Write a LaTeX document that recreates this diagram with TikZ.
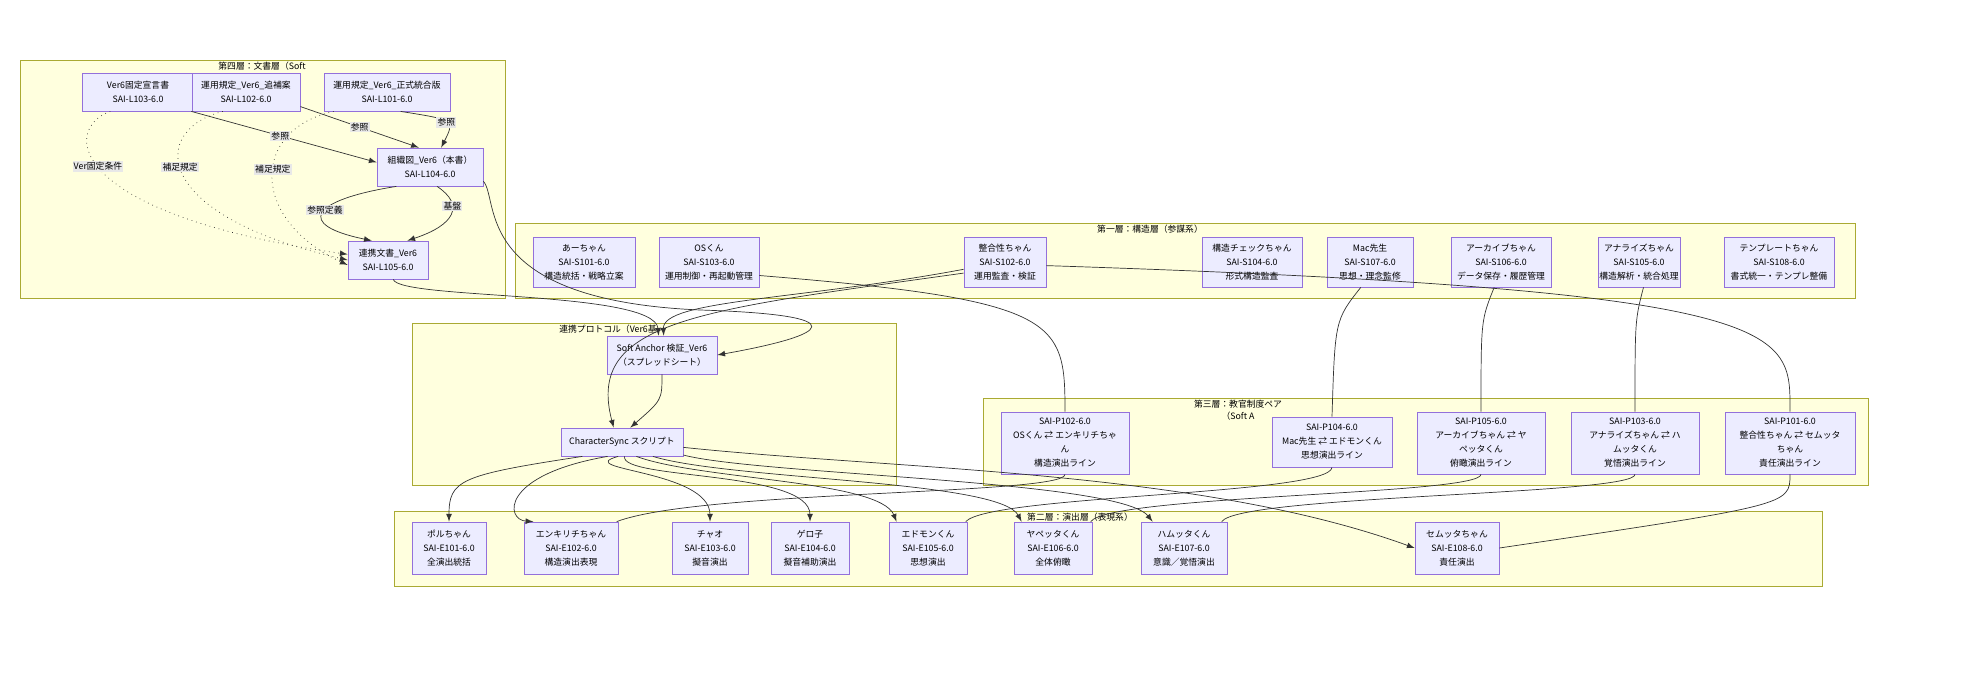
\documentclass[tikz,border=0pt]{standalone}
\usepackage{fontspec}
\setmainfont{Noto Sans CJK JP}
\usetikzlibrary{arrows,positioning}
\definecolor{clfill}{HTML}{FFFFDE}
\definecolor{cldraw}{HTML}{AAAA33}
\definecolor{bxfill}{HTML}{ECECFF}
\definecolor{bxdraw}{HTML}{9370DB}
\definecolor{lnk}{HTML}{333333}
\definecolor{lblfill}{HTML}{E8E8E8}
\tikzset{
  box/.style={draw=bxdraw,fill=bxfill,line width=0.4pt,align=center,inner sep=0pt,
    font=\fontsize{4.4}{7}\selectfont},
  cluster/.style={draw=cldraw,fill=clfill,line width=0.4pt},
  cltitle/.style={font=\fontsize{4.4}{6}\selectfont,inner sep=0pt,anchor=north},
  lbl/.style={fill=lblfill,font=\fontsize{4.4}{6}\selectfont,inner sep=0.6pt},
  lk/.style={draw=lnk,line width=0.35pt},
}
\begin{document}
\begin{tikzpicture}[x=0.5pt,y=-0.5pt,>=latex]
  \useasboundingbox (0,0) rectangle (1982,690);
  % clusters
  \draw[cluster] (20,60) rectangle (505,298);
  \draw[cluster] (515,223) rectangle (1855,298);
  \draw[cluster] (412,323) rectangle (896,485);
  \draw[cluster] (983,398) rectangle (1868,485);
  \draw[cluster] (394,511) rectangle (1822,586);
  \node[cltitle] (T4) at (262,62) {第四層：文書層（Soft};
  \node[cltitle] (T1) at (1150,225) {第一層：構造層（参謀系）};
  \node[cltitle] (TP) at (608,325) {連携プロトコル（Ver6基};
  \node[cltitle,align=center] (T3) at (1238,400) {第三層：教官制度ペア\\（Soft A};
  \node[cltitle] (T2) at (1080,513) {第二層：演出層（表現系）};
  % documents
  \node[box,minimum width=56pt,minimum height=19pt] (L103) at (138,92) {Ver6固定宣言書\\SAI-L103-6.0};
  \node[box,minimum width=54pt,minimum height=19pt] (L102) at (246,92) {運用規定\_Ver6\_追補案\\SAI-L102-6.0};
  \node[box,minimum width=63pt,minimum height=19pt] (L101) at (387,92) {運用規定\_Ver6\_正式統合版\\SAI-L101-6.0};
  \node[box,minimum width=53pt,minimum height=19pt] (L104) at (430,167) {組織図\_Ver6（本書）\\SAI-L104-6.0};
  \node[box,minimum width=40pt,minimum height=19pt] (L105) at (388,260) {連携文書\_Ver6\\SAI-L105-6.0};
  % protocol
  \node[box,minimum width=55pt,minimum height=19pt] (SA) at (662,355) {Soft Anchor 検証\_Ver6\\（スプレッドシート）};
  \node[box,minimum width=61pt,minimum height=14pt] (CS) at (622,442) {CharacterSync スクリプト};
  % structure layer
  \node[box,minimum width=51pt,minimum height=25pt] (S101) at (584,262) {あーちゃん\\SAI-S101-6.0\\構造統括・戦略立案};
  \node[box,minimum width=50pt,minimum height=25pt] (S103) at (709,262) {OSくん\\SAI-S103-6.0\\運用制御・再起動管理};
  \node[box,minimum width=41pt,minimum height=25pt] (S102) at (1005,262) {整合性ちゃん\\SAI-S102-6.0\\運用監査・検証};
  \node[box,minimum width=50pt,minimum height=25pt] (S104) at (1252,262) {構造チェックちゃん\\SAI-S104-6.0\\形式構造監査};
  \node[box,minimum width=43pt,minimum height=25pt] (S107) at (1370,262) {Mac先生\\SAI-S107-6.0\\思想・理念監修};
  \node[box,minimum width=50pt,minimum height=25pt] (S106) at (1501,262) {アーカイブちゃん\\SAI-S106-6.0\\データ保存・履歴管理};
  \node[box,minimum width=41pt,minimum height=25pt] (S105) at (1639,262) {アナライズちゃん\\SAI-S105-6.0\\構造解析・統合処理};
  \node[box,minimum width=55pt,minimum height=25pt] (S108) at (1779,262) {テンプレートちゃん\\SAI-S108-6.0\\書式統一・テンプレ整備};
  % pairs
  \node[box,minimum width=64pt,minimum height=31pt] (P102) at (1065,443) {SAI-P102-6.0\\OSくん ⇄ エンキリチちゃ\\ん\\構造演出ライン};
  \node[box,minimum width=60pt,minimum height=25pt] (P104) at (1332,442) {SAI-P104-6.0\\Mac先生 ⇄ エドモンくん\\思想演出ライン};
  \node[box,minimum width=64pt,minimum height=31pt] (P105) at (1481,443) {SAI-P105-6.0\\アーカイブちゃん ⇄ ヤ\\ペッタくん\\俯瞰演出ライン};
  \node[box,minimum width=64pt,minimum height=31pt] (P103) at (1635,443) {SAI-P103-6.0\\アナライズちゃん ⇄ ハ\\ムッタくん\\覚悟演出ライン};
  \node[box,minimum width=65pt,minimum height=31pt] (P101) at (1790,443) {SAI-P101-6.0\\整合性ちゃん ⇄ セムッタ\\ちゃん\\責任演出ライン};
  % performance layer
  \node[box,minimum width=37pt,minimum height=26pt] (E101) at (449,548) {ポルちゃん\\SAI-E101-6.0\\全演出統括};
  \node[box,minimum width=47pt,minimum height=26pt] (E102) at (571,548) {エンキリチちゃん\\SAI-E102-6.0\\構造演出表現};
  \node[box,minimum width=38pt,minimum height=26pt] (E103) at (710,548) {チャオ\\SAI-E103-6.0\\擬音演出};
  \node[box,minimum width=39pt,minimum height=26pt] (E104) at (810,548) {ゲロ子\\SAI-E104-6.0\\擬音補助演出};
  \node[box,minimum width=39pt,minimum height=26pt] (E105) at (928,548) {エドモンくん\\SAI-E105-6.0\\思想演出};
  \node[box,minimum width=39pt,minimum height=26pt] (E106) at (1053,548) {ヤペッタくん\\SAI-E106-6.0\\全体俯瞰};
  \node[box,minimum width=43pt,minimum height=26pt] (E107) at (1184,548) {ハムッタくん\\SAI-E107-6.0\\意識／覚悟演出};
  \node[box,minimum width=42pt,minimum height=26pt] (E108) at (1457,548) {セムッタちゃん\\SAI-E108-6.0\\責任演出};
  % document links
  \draw[lk,->] (L103.-20) -- node[lbl,pos=0.48] {参照} (L104.175);
  \draw[lk,->] (L102.-15) -- node[lbl,pos=0.5] {参照} (L104.120);
  \draw[lk,->] (L101.-55) .. controls (455,120) .. node[lbl,pos=0.5] {参照} (L104.60);
  \draw[lk,->,dotted] (L103.-145) .. controls (60,130) and (70,215) .. node[lbl,pos=0.45] {Ver固定条件} (L105.172);
  \draw[lk,->,dotted] (L102.-140) .. controls (150,130) and (150,215) .. node[lbl,pos=0.45] {補足規定} (L105.180);
  \draw[lk,->,dotted] (L101.-160) .. controls (250,130) and (250,220) .. node[lbl,pos=0.45] {補足規定} (L105.187);
  \draw[lk,->] (L104.-150) .. controls (310,200) and (295,225) .. node[lbl,pos=0.45] {参照定義} (L105.130);
  \draw[lk,->] (L104.-70) .. controls (465,205) and (455,225) .. node[lbl,pos=0.35] {基盤} (L105.45);
  % protocol links
  \draw[lk,->] (L104.-15) .. controls (500,200) and (470,300) .. (700,310) .. controls (860,315) and (830,335) .. (SA.east);
  \draw[lk,->] (L105.-75) .. controls (400,300) and (655,290) .. (SA.100);
  \draw[lk,->] (S102.-170) .. controls (800,300) and (662,300) .. (SA.85);
  \draw[lk,->] (S102.-165) .. controls (700,310) and (585,320) .. (CS.120);
  \draw[lk,->] (SA.south) .. controls (662,400) .. (CS.60);
  \draw[lk,->] (CS.-160) .. controls (460,475) and (449,480) .. (E101.north);
  \draw[lk,->] (CS.-135) .. controls (500,475) and (505,520) .. (E102.145);
  \draw[lk,->] (CS.-105) .. controls (570,470) and (710,470) .. (E103.north);
  \draw[lk,->] (CS.-80) .. controls (620,480) and (810,470) .. (E104.north);
  \draw[lk,->] (CS.-45) .. controls (700,480) and (880,480) .. (E105.140);
  \draw[lk,->] (CS.-25) .. controls (730,480) and (1000,480) .. (E106.140);
  \draw[lk,->] (CS.-12) .. controls (760,475) and (1120,480) .. (E107.140);
  \draw[lk,->] (CS.-5) .. controls (900,470) and (1200,470) .. (E108.west);
  % pair links
  \draw[lk] (S103.-15) .. controls (1060,300) and (1065,320) .. (P102.north);
  \draw[lk] (S102.-5) .. controls (1800,290) and (1790,330) .. (P101.north);
  \draw[lk] (S107.-110) .. controls (1335,320) .. (P104.north);
  \draw[lk] (S106.-105) .. controls (1481,320) .. (P105.north);
  \draw[lk] (S105.-80) .. controls (1635,320) .. (P103.north);
  \draw[lk] (P102.south) .. controls (1065,495) and (700,490) .. (E102.30);
  \draw[lk] (P104.south) .. controls (1330,495) and (990,495) .. (E105.35);
  \draw[lk] (P105.south) .. controls (1480,495) and (1110,495) .. (E106.35);
  \draw[lk] (P103.south) .. controls (1635,495) and (1240,495) .. (E107.35);
  \draw[lk] (P101.south) .. controls (1790,505) .. (E108.east);
\end{tikzpicture}
\end{document}
